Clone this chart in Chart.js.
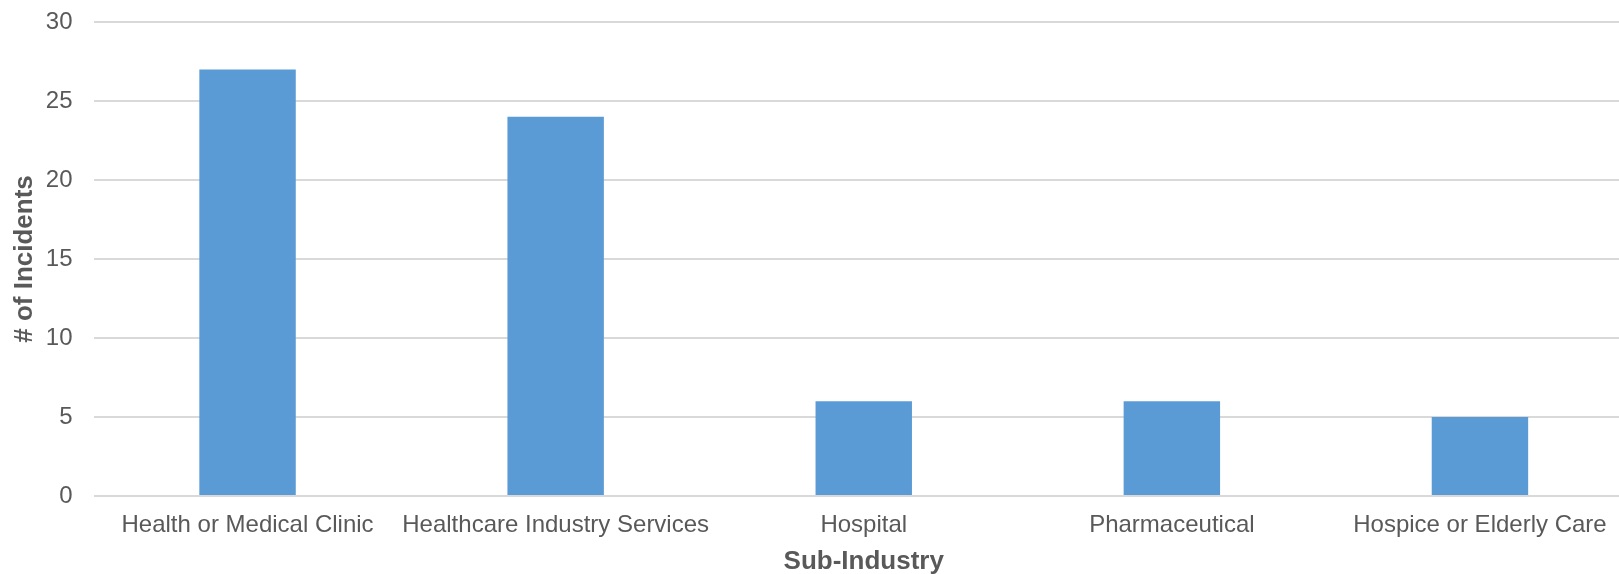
<!DOCTYPE html>
<html>
<head>
<meta charset="utf-8">
<script src="https://cdn.jsdelivr.net/npm/chart.js@4"></script>
<style>
html,body{margin:0;padding:0;background:#fff;overflow:hidden;}
#wrap{width:1634px;height:574px;position:relative;}
</style>
</head>
<body>
<div id="wrap"><canvas id="c"></canvas></div>
<script>
const categories = ["Health or Medical Clinic", "Healthcare Industry Services", "Hospital", "Pharmaceutical", "Hospice or Elderly Care"];
const incidents = [27, 24, 6, 6, 5];
const xTitle = "Sub-Industry";
const yTitle = "# of Incidents";
const yMin = 0, yMax = 30, yStep = 5;

const FONT = "'Liberation Sans', Arial, sans-serif";
const TXT = "#595959";
const GRID = "#D9D9D9";

new Chart(document.getElementById('c'), {
  type: 'bar',
  data: {
    labels: categories,
    datasets: [{
      data: incidents,
      backgroundColor: "#5B9BD5",
      borderWidth: 0,
      barPercentage: 0.313,
      categoryPercentage: 1.0
    }]
  },
  options: {
    responsive: true,
    maintainAspectRatio: false,
    animation: false,
    devicePixelRatio: 1,
    layout: { padding: { top: 22, right: 0, bottom: 0, left: 0 } },
    plugins: { legend: { display: false }, tooltip: { enabled: false } },
    scales: {
      x: {
        grid: { display: false, drawTicks: false },
        border: { display: false },
        ticks: { color: TXT, font: { family: FONT, size: 24 }, padding: 15, maxRotation: 0, autoSkip: false },
        title: { display: true, text: xTitle, color: TXT, font: { family: FONT, size: 26, weight: 'bold' }, padding: { top: 6, bottom: -3 } },
        afterFit: (s) => { s.height = 78; }
      },
      y: {
        min: yMin, max: yMax,
        grid: { color: GRID, lineWidth: 2, drawTicks: false },
        border: { display: false },
        ticks: { stepSize: yStep, color: TXT, font: { family: FONT, size: 24 }, padding: 21 },
        title: { display: true, text: yTitle, color: TXT, font: { family: FONT, size: 26, weight: 'bold' }, padding: { top: 9, bottom: 0 } },
        afterFit: (s) => { s.width = 93.5; s.paddingTop = 0; s.paddingBottom = 0; }
      }
    }
  }
});
</script>
</body>
</html>
